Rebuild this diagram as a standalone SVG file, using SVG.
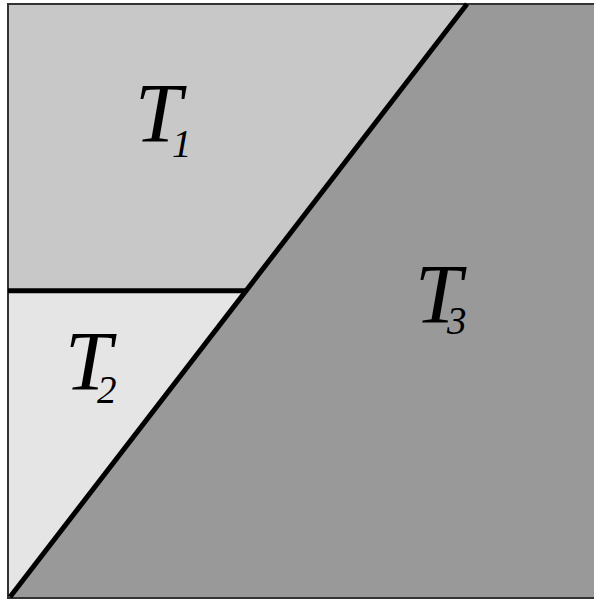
<svg xmlns="http://www.w3.org/2000/svg" width="594" height="600" viewBox="0 0 594 600">
<style>
.lbl{font-family:"Liberation Serif","Times New Roman",serif;font-style:italic;fill:#000;font-size:84px}
.sub{font-size:39px}
.edge{stroke:#000;stroke-width:5;fill:none;stroke-linecap:butt}
</style>
<rect x="0" y="0" width="594" height="600" fill="#ffffff"/>
<g id="T1">
<polygon points="8,4 467,4 247,291 8,291" fill="#c8c8c8"/>
<text class="lbl" x="135" y="142">T<tspan class="sub" x="172" y="157">1</tspan></text>
</g>
<g id="T2">
<polygon points="8,291 247,291 10,597 8,597" fill="#e5e5e5"/>
<text class="lbl" x="65" y="390">T<tspan class="sub" x="97" y="403">2</tspan></text>
</g>
<g id="T3">
<polygon points="467,4 600,4 600,598 10,598" fill="#999999"/>
<text class="lbl" x="415" y="323">T<tspan class="sub" x="447" y="334">3</tspan></text>
</g>
<g id="connectors">
<rect x="8" y="4" width="600" height="594" fill="none" stroke="#333333" stroke-width="2"/>
<line class="edge" x1="10" y1="597" x2="467" y2="4"/>
<line class="edge" x1="8" y1="290.8" x2="247" y2="290.8"/>
</g>
</svg>
